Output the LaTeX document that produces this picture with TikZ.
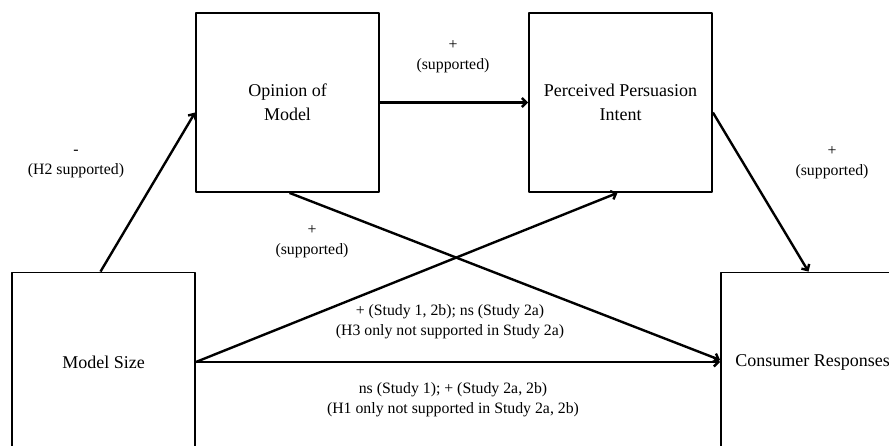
\documentclass[tikz,border=0pt]{standalone}
\usepackage{fontspec}
\setmainfont{Liberation Serif}
\usetikzlibrary{arrows.meta,positioning}
\tikzset{
  varbox/.style={draw,line width=1.8pt,minimum width=183pt,minimum height=179pt,
    inner sep=0pt,align=center,font=\fontsize{18}{24.5}\selectfont},
  pathlab/.style={align=center,inner sep=0pt,font=\fontsize{15.8}{20}\selectfont},
  link/.style={->,line width=2.4pt}
}
\begin{document}
\begin{tikzpicture}[x=1pt,y=-1pt,line join=round,>={Straight Barb[length=4.5pt,width=9pt]}]
            \useasboundingbox (0,0) rectangle (889,446);
            \clip (0,0) rectangle (889,446);
            % variables
            \node[varbox] (op) at (287.5,102.5) {Opinion of\\Model};
            \node[varbox] (ppi) at (620.5,102.5) {Perceived Persuasion\\Intent};
            \node[varbox] (size) at (103.5,362) {Model Size};
            \node[varbox] (cons) at (812.5,362) {Consumer Responses};
            % paths
            \draw[link] ([xshift=-3pt]size.north) -- ([yshift=-10pt]op.west);
            \draw[link] (op.east) -- (ppi.west);
            \draw[link] ([yshift=-10pt]ppi.east) -- ([xshift=-4pt]cons.north);
            \draw[link] ([xshift=2pt]op.south) -- ([yshift=2pt]cons.west);
            \draw[link] (size.east) -- ([xshift=-3pt]ppi.south);
            \draw[link] (size.east) -- (cons.west);
            % labels
            \node[pathlab] (lh2) at (76,164) {-\\(H2 supported)};
            \node[pathlab] (lop) at (453,57) {+\\(supported)};
            \node[pathlab] (lppi) at (832,163) {+\\(supported)};
            \node[pathlab] (lcross) at (312,242) {+\\(supported)};
            \node[pathlab] (lh3) at (450,322) {+ (Study 1, 2b); ns (Study 2a)\\(H3 only not supported in Study 2a)};
            \node[pathlab] (lh1) at (453,400) {ns (Study 1); + (Study 2a, 2b)\\(H1 only not supported in Study 2a, 2b)};
\end{tikzpicture}
\end{document}
